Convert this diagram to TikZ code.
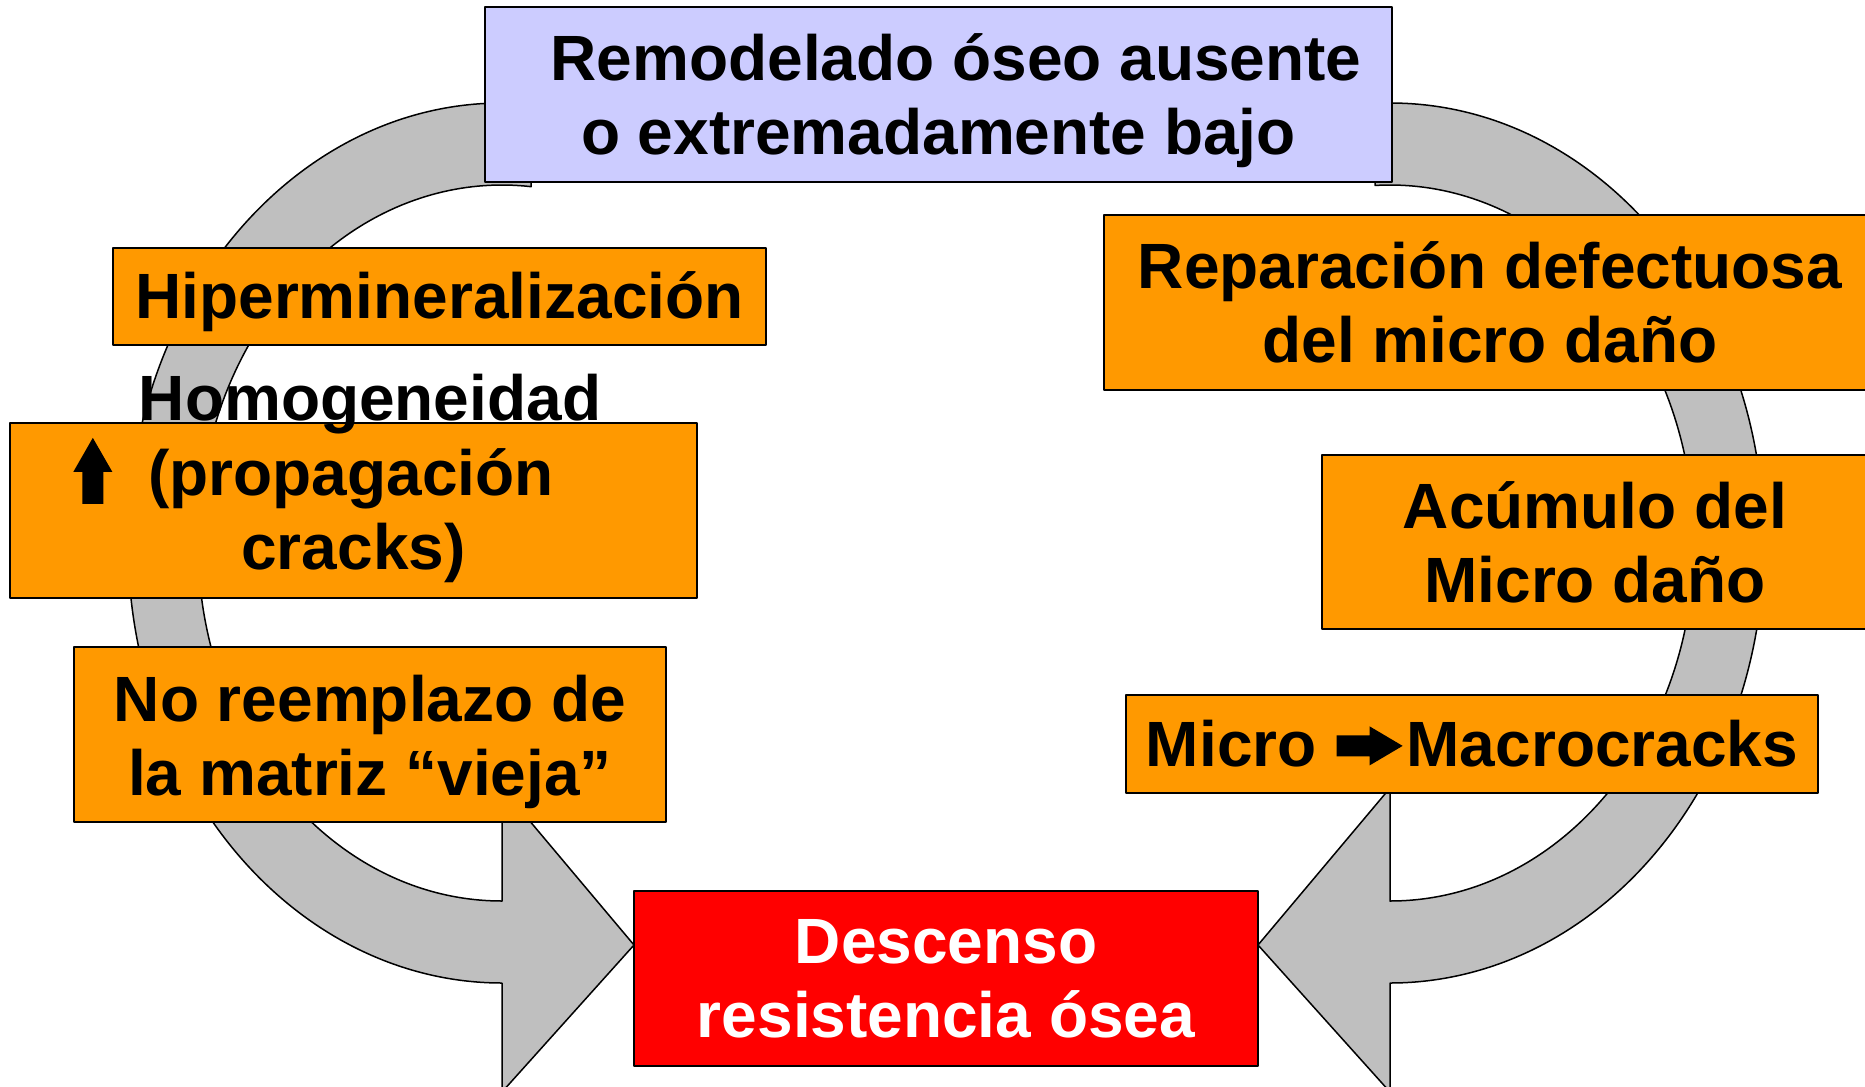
\documentclass[tikz,border=0pt]{standalone}
\usepackage{fontspec}
\setmainfont{Liberation Sans}
\usepackage{pgf,tikz}
\definecolor{ccccff}{rgb}{0.8,0.8,1}
\definecolor{ff99qq}{rgb}{1,0.6,0}
\definecolor{ffqqqq}{rgb}{1,0,0}
\definecolor{cqcqcq}{rgb}{0.75,0.75,0.75}
\newcommand{\uparrowsym}{\tikz[baseline=4pt,x=1pt,y=1pt]\fill[black] (-5.25,0) -- (5.25,0) -- (5.25,16) -- (9.75,16) -- (0,33) -- (-9.75,16) -- (-5.25,16) -- cycle;}
\newcommand{\rightarrowsym}{\tikz[baseline=0pt,x=1pt,y=1pt]\fill[black] (0,5.25) -- (16.5,5.25) -- (16.5,0.75) -- (33,10.5) -- (16.5,20.25) -- (16.5,15.75) -- (0,15.75) -- cycle;}
\newcommand{\lowerby}[2]{\raisebox{-#1}[\height][\depth]{#2}}
\begin{document}
\begin{tikzpicture}[line cap=round,line join=round,x=0.5pt,y=-0.5pt,
    txt/.style={font=\bfseries\fontsize{32}{37}\selectfont,align=center,inner sep=0pt},
    box/.style={txt,draw=black,line width=1pt,minimum height=87.5pt},
    band/.style={draw=black,line width=0.75pt,fill=cqcqcq}]
      \useasboundingbox (0,0) rectangle (1865,1087);
      \clip (0,0) rectangle (1865,1087);
      \draw[band] (502,543) ++(-85.6:374 and 440) arc (-85.6:-270:374 and 440) -- (502,1092) -- (634,945) -- (502,788) -- (502,901) arc (90:275.5:304 and 358) -- cycle;
      \draw[band] (1390,543) ++(267.7:374 and 440) arc (267.7:450:374 and 440) -- (1390,1092) -- (1258,945) -- (1390,788) -- (1390,901) arc (90:-92.8:304 and 358) -- cycle;
      \node[box,fill=ccccff,minimum width=453.5pt] (remodelado) at (938.5,94.5) {\hspace*{17.5pt}\lowerby{3pt}{Remodelado óseo ausente}\\\lowerby{3pt}{o extremadamente bajo}};
      \node[box,fill=ff99qq,minimum width=326.5pt,minimum height=48.5pt] (hiper) at (439.5,296.5) {\lowerby{2.4pt}{Hipermineralización}};
      \node[box,fill=ff99qq,minimum width=343.5pt] (propag) at (353.5,510.5) {\hspace*{-40pt}\uparrowsym\hspace{18pt}(propagación\\cracks)};
      \node[txt,anchor=base] (homog) at (370,420) {Homogeneidad};
      \node[box,fill=ff99qq,minimum width=296pt] (noreemp) at (370,734.5) {\lowerby{3.5pt}{No reemplazo de}\\\lowerby{3.5pt}{la matriz “vieja”}};
      \node[box,fill=ffqqqq,text=white,minimum width=312pt] (descenso) at (946,978.5) {Descenso\\resistencia ósea};
      \node[box,fill=ff99qq,minimum width=386pt] (reparacion) at (1490,302.5) {Reparación defectuosa\\del micro daño};
      \node[box,fill=ff99qq,minimum width=273pt,minimum height=87pt] (acumulo) at (1595,542) {Acúmulo del\\Micro daño};
      \node[box,fill=ff99qq,minimum width=346pt,minimum height=49pt] (macro) at (1472,744) {Micro\hspace{10pt}\rightarrowsym\hspace{2pt}Macrocracks};
\end{tikzpicture}
\end{document}
